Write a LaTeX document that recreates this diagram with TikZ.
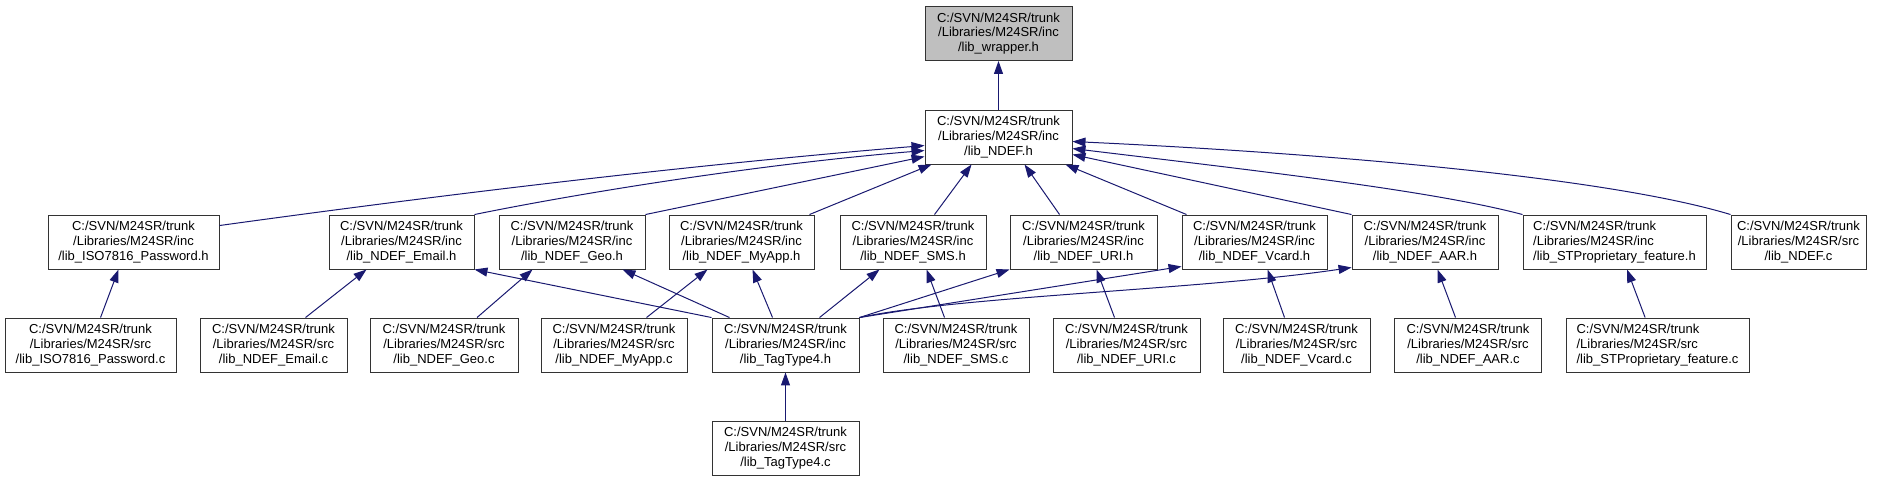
\documentclass[tikz,border=0pt]{standalone}
\usepackage{fontspec}
\setmainfont{Liberation Sans}
\usetikzlibrary{arrows.meta}
\definecolor{edgeblue}{RGB}{25,25,112}
\definecolor{rootgray}{RGB}{191,191,191}
\begin{document}
\begin{tikzpicture}[x=1pt,y=-1pt,
  box/.style={draw=black!80, line width=0.95pt, minimum height=54pt, inner sep=0pt,
    align=center, font=\fontsize{13}{14.7}\selectfont},
  leftbox/.style={box, align=left},
  edge/.style={draw=edgeblue, line width=1pt, -{Triangle[length=13pt,width=9pt]}}]
\useasboundingbox (0,0) rectangle (1883,483);
% row 1
\node[box, fill=rootgray, minimum width=147pt] (wrapper) at (998.5,33.5) {C:/SVN/M24SR/trunk\\/Libraries/M24SR/inc\\/lib\_wrapper.h};
\node[box, minimum width=147pt] (ndef_h) at (998.5,137) {C:/SVN/M24SR/trunk\\/Libraries/M24SR/inc\\/lib\_NDEF.h};
% row 2
\node[box, minimum width=171pt] (iso_h) at (133.5,242) {C:/SVN/M24SR/trunk\\/Libraries/M24SR/inc\\/lib\_ISO7816\_Password.h};
\node[box, minimum width=145pt] (email_h) at (401.5,242) {C:/SVN/M24SR/trunk\\/Libraries/M24SR/inc\\/lib\_NDEF\_Email.h};
\node[box, minimum width=146pt] (geo_h) at (572,242) {C:/SVN/M24SR/trunk\\/Libraries/M24SR/inc\\/lib\_NDEF\_Geo.h};
\node[box, minimum width=145pt] (myapp_h) at (741.5,242) {C:/SVN/M24SR/trunk\\/Libraries/M24SR/inc\\/lib\_NDEF\_MyApp.h};
\node[box, minimum width=146pt] (sms_h) at (913,242) {C:/SVN/M24SR/trunk\\/Libraries/M24SR/inc\\/lib\_NDEF\_SMS.h};
\node[box, minimum width=147pt] (uri_h) at (1083.5,242) {C:/SVN/M24SR/trunk\\/Libraries/M24SR/inc\\/lib\_NDEF\_URI.h};
\node[box, minimum width=145pt] (vcard_h) at (1254.5,242) {C:/SVN/M24SR/trunk\\/Libraries/M24SR/inc\\/lib\_NDEF\_Vcard.h};
\node[box, minimum width=146pt] (aar_h) at (1425,242) {C:/SVN/M24SR/trunk\\/Libraries/M24SR/inc\\/lib\_NDEF\_AAR.h};
\node[leftbox, minimum width=183pt] (stp_h) at (1614.5,242) {C:/SVN/M24SR/trunk\\/Libraries/M24SR/inc\\/lib\_STProprietary\_feature.h};
\node[box, minimum width=135pt] (ndef_c) at (1798.5,242) {C:/SVN/M24SR/trunk\\/Libraries/M24SR/src\\/lib\_NDEF.c};
% row 3
\node[box, minimum width=171pt] (iso_c) at (90.5,345) {C:/SVN/M24SR/trunk\\/Libraries/M24SR/src\\/lib\_ISO7816\_Password.c};
\node[box, minimum width=147pt] (email_c) at (273.5,345) {C:/SVN/M24SR/trunk\\/Libraries/M24SR/src\\/lib\_NDEF\_Email.c};
\node[box, minimum width=148pt] (geo_c) at (444,345) {C:/SVN/M24SR/trunk\\/Libraries/M24SR/src\\/lib\_NDEF\_Geo.c};
\node[box, minimum width=146pt] (myapp_c) at (614,345) {C:/SVN/M24SR/trunk\\/Libraries/M24SR/src\\/lib\_NDEF\_MyApp.c};
\node[box, minimum width=147pt] (tag_h) at (785.5,345) {C:/SVN/M24SR/trunk\\/Libraries/M24SR/inc\\/lib\_TagType4.h};
\node[box, minimum width=146pt] (sms_c) at (956,345) {C:/SVN/M24SR/trunk\\/Libraries/M24SR/src\\/lib\_NDEF\_SMS.c};
\node[box, minimum width=147pt] (uri_c) at (1126.5,345) {C:/SVN/M24SR/trunk\\/Libraries/M24SR/src\\/lib\_NDEF\_URI.c};
\node[box, minimum width=147pt] (vcard_c) at (1296.5,345) {C:/SVN/M24SR/trunk\\/Libraries/M24SR/src\\/lib\_NDEF\_Vcard.c};
\node[box, minimum width=147pt] (aar_c) at (1468,345) {C:/SVN/M24SR/trunk\\/Libraries/M24SR/src\\/lib\_NDEF\_AAR.c};
\node[leftbox, minimum width=183pt] (stp_c) at (1657.5,345) {C:/SVN/M24SR/trunk\\/Libraries/M24SR/src\\/lib\_STProprietary\_feature.c};
% row 4
\node[box, minimum width=147pt] (tag_c) at (785.5,448) {C:/SVN/M24SR/trunk\\/Libraries/M24SR/src\\/lib\_TagType4.c};
% edges to wrapper / NDEF.h
\draw[edge] (ndef_h.north) -- (wrapper.south);
\draw[edge] ([yshift=-11pt]iso_h.north east) .. controls (455,193) and (690,165) .. ([yshift=-36pt]ndef_h.north west);
\draw[edge] (email_h.north east) .. controls (570,195) and (750,165) .. ([yshift=-41pt]ndef_h.north west);
\draw[edge] (geo_h.north east) -- ([yshift=-47pt]ndef_h.north west);
\draw[edge] ([xshift=-5pt]myapp_h.north east) -- ([xshift=7pt]ndef_h.south west);
\draw[edge] ([xshift=95pt]sms_h.north west) -- ([xshift=47pt]ndef_h.south west);
\draw[edge] ([xshift=50pt]uri_h.north west) -- ([xshift=100pt]ndef_h.south west);
\draw[edge] ([xshift=5pt]vcard_h.north west) -- ([xshift=-7pt]ndef_h.south east);
\draw[edge] (aar_h.north west) -- ([yshift=-45pt]ndef_h.north east);
\draw[edge] (stp_h.north west) .. controls (1430,190) and (1250,170) .. ([yshift=-39pt]ndef_h.north east);
\draw[edge] (ndef_c.north west) .. controls (1600,175) and (1300,152) .. ([yshift=-32pt]ndef_h.north east);
% row 3 to row 2
\draw[edge] ([xshift=96pt]iso_c.north west) -- ([xshift=71pt]iso_h.south west);
\draw[edge] ([xshift=106pt]email_c.north west) -- ([xshift=38pt]email_h.south west);
\draw[edge] ([xshift=107.5pt]geo_c.north west) -- ([xshift=34pt]geo_h.south west);
\draw[edge] ([xshift=106pt]myapp_c.north west) -- ([xshift=39pt]myapp_h.south west);
\draw[edge] ([xshift=62pt]sms_c.north west) -- ([xshift=87pt]sms_h.south west);
\draw[edge] ([xshift=62pt]uri_c.north west) -- ([xshift=87pt]uri_h.south west);
\draw[edge] ([xshift=62pt]vcard_c.north west) -- ([xshift=86pt]vcard_h.south west);
\draw[edge] ([xshift=61.5pt]aar_c.north west) -- ([xshift=86pt]aar_h.south west);
\draw[edge] ([xshift=79.6pt]stp_c.north west) -- ([xshift=104.5pt]stp_h.south west);
% TagType4.h to row 2
\draw[edge] (tag_h.north west) -- (email_h.south east);
\draw[edge] ([xshift=18pt]tag_h.north west) -- ([xshift=-23pt]geo_h.south east);
\draw[edge] ([xshift=61pt]tag_h.north west) -- ([xshift=84pt]myapp_h.south west);
\draw[edge] ([xshift=108pt]tag_h.north west) -- ([xshift=40pt]sms_h.south west);
\draw[edge] (tag_h.north east) -- (uri_h.south west);
\draw[edge] (tag_h.north east) -- ([yshift=3pt]vcard_h.south west);
\draw[edge] (tag_h.north east) .. controls (960,296) and (1200,290) .. ([yshift=2pt]aar_h.south west);
% TagType4.c
\draw[edge] (tag_c.north) -- (tag_h.south);
\end{tikzpicture}
\end{document}
